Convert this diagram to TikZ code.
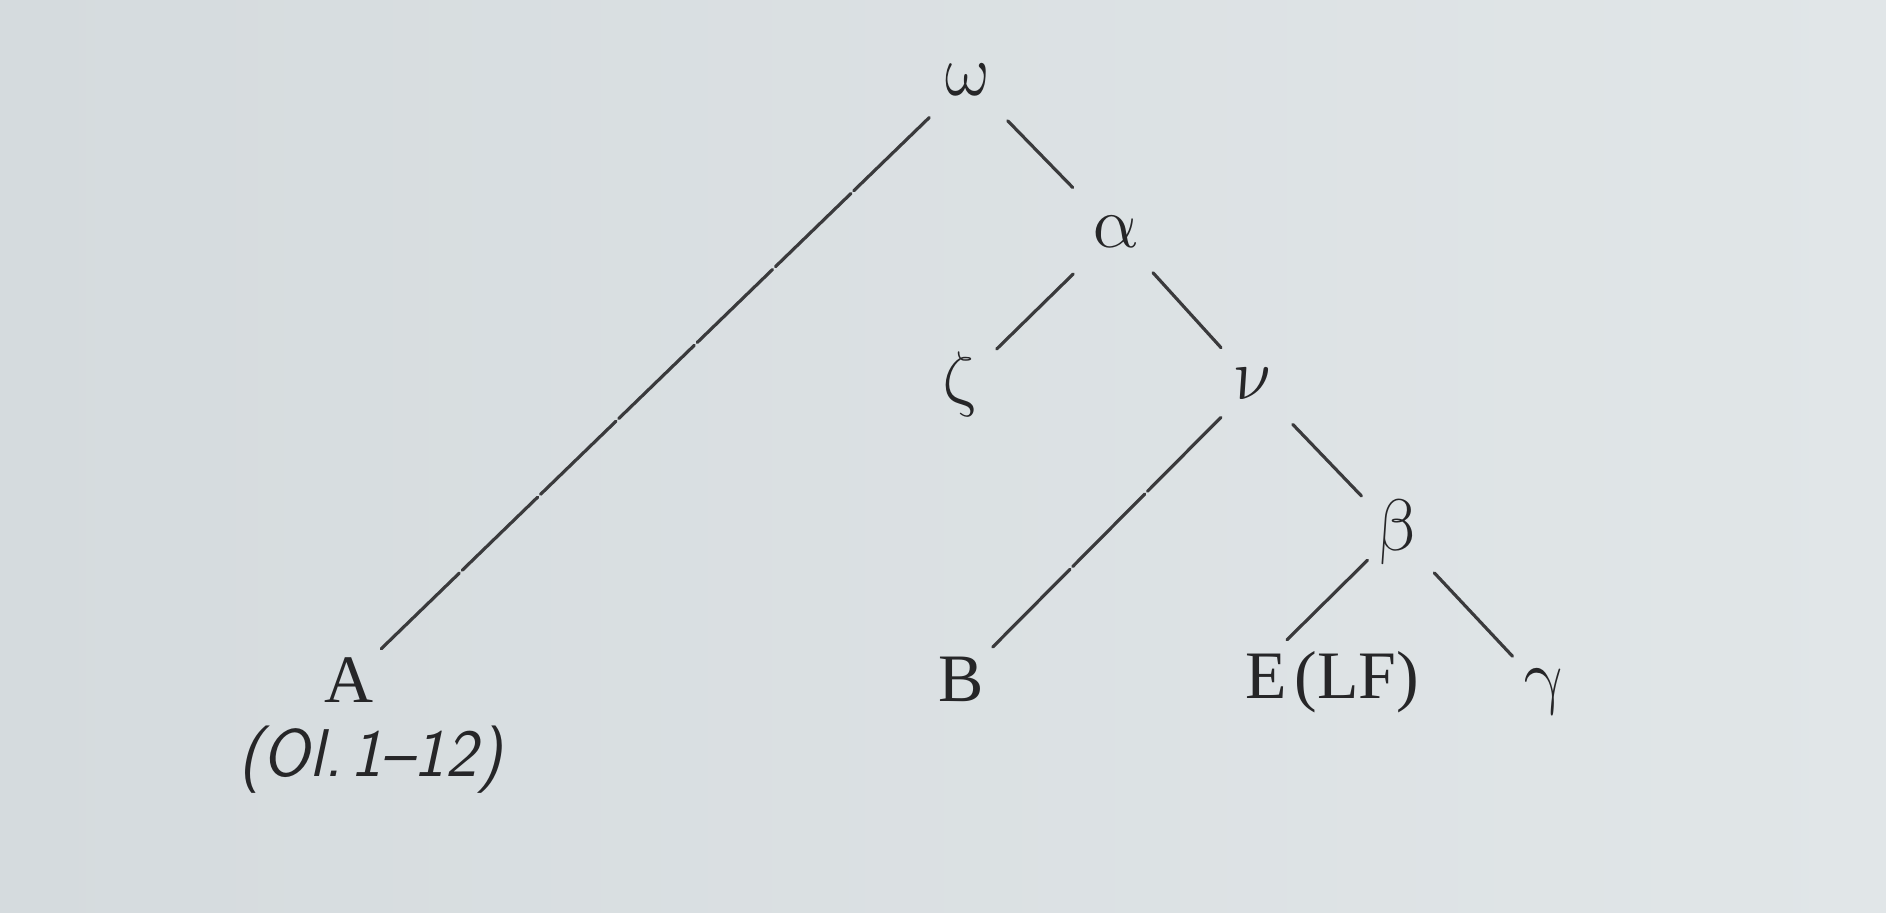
\documentclass[tikz,border=0pt]{standalone}
\usepackage{fontspec}
\newfontfamily\capfont{Liberation Serif}
\definecolor{paper}{RGB}{225,230,232}
\definecolor{paperdark}{RGB}{213,219,222}
\definecolor{ink}{RGB}{38,38,40}
\definecolor{lineink}{RGB}{58,58,60}
\begin{document}
\begin{tikzpicture}[x=0.01cm,y=-0.01cm,
  lbl/.style={inner sep=0pt, text=ink, font=\capfont\fontsize{19.3}{23}\selectfont},
  grk/.style={inner sep=0pt, text=ink, xslant=-0.18, font=\fontsize{20.5}{25}\selectfont},
  olref/.style={inner sep=0pt, text=ink, font=\fontsize{19.2}{23}\selectfont\sffamily\itshape},
  edge/.style={draw=lineink, line width=0.9pt, line cap=round},
  longedge/.style={edge, dash pattern=on 1.05cm off 0.04cm on 1.05cm off 0.04cm on 1.05cm off 0.04cm on 1.05cm off 0.04cm on 1.05cm off 0.04cm on 1.05cm off 0.04cm on 9cm off 0cm},
  midedge/.style={edge, dash pattern=on 1.04cm off 0.04cm on 1.02cm off 0.04cm on 9cm off 0cm}]
\shade[left color=paperdark, right color=paper] (0,0) rectangle (1886,912);
\useasboundingbox (0,0) rectangle (1886,912);
% nodes
\node[grk] (om) at (968,80) {$\omega$};
\node[grk] (al) at (1116,232) {$\alpha$};
\node[grk] (ze) at (961,384) {$\zeta$};
\node[grk] (nu) at (1254,384) {$\nu$};
\node[grk] (be) at (1396,532) {$\beta$};
\node[lbl] (A) at (349,680) {A};
\node[olref] (Ol) at (370,760) {(Ol.\hspace{0.12em}1--12)};
\node[lbl] (B) at (961,679) {B};
\node[lbl] (E) at (1332,682) {E\hspace{0.12em}(LF)};
\node[grk] (ga) at (1546,692) {$\gamma$};
% connectors
\draw[longedge, shorten <=0.54cm, shorten >=0.45cm] (om.center) -- (A.center);
\draw[edge, shorten <=0.57cm, shorten >=0.62cm] (om.center) -- (al.center);
\draw[edge, shorten <=0.60cm, shorten >=0.50cm] (al.center) -- (ze.center);
\draw[edge, shorten <=0.55cm, shorten >=0.49cm] (al.center) -- (nu.center);
\draw[midedge, shorten <=0.47cm, shorten >=0.45cm] (nu.center) -- (B.center);
\draw[edge, shorten <=0.56cm, shorten >=0.50cm] (nu.center) -- (be.center);
\draw[edge, shorten <=0.40cm, shorten >=0.60cm] (be.center) -- (E.west);
\draw[edge, shorten <=0.56cm, shorten >=0.49cm] (be.center) -- (ga.center);
\end{tikzpicture}
\end{document}
